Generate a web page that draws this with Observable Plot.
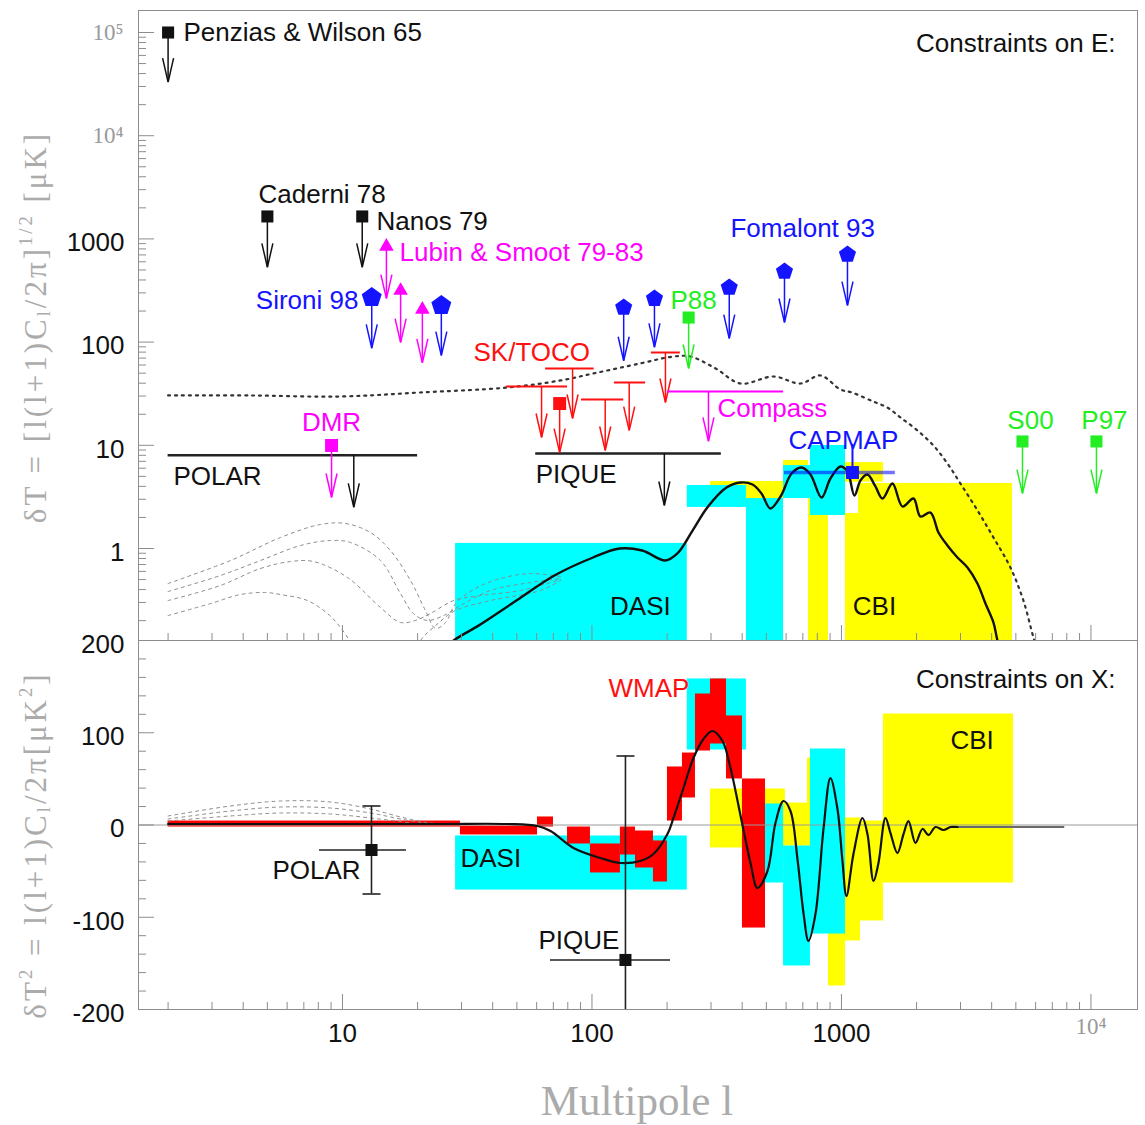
<!DOCTYPE html>
<html>
<head>
<meta charset="utf-8">
<title>Constraints on E and X polarization</title>
<script src="https://cdn.jsdelivr.net/npm/d3@7"></script>
<script src="https://cdn.jsdelivr.net/npm/@observablehq/plot@0.6"></script>
<style>
  html, body { margin: 0; padding: 0; background: #fff; }
  #chart { position: relative; width: 1145px; height: 1125px; overflow: hidden; }
  #chart svg { position: absolute; left: 0; }
  .axis-title { position: absolute; white-space: nowrap; font-family: "Liberation Serif", "DejaVu Serif", serif; color: #ababab; }
  .axis-title.y { font-size: 31px; letter-spacing: 3px; transform: translate(-50%, -50%) rotate(-90deg); }
  .axis-title.x { font-size: 43px; transform: translate(-50%, -50%); }
  .axis-title sub { font-size: 60%; vertical-align: -0.25em; }
  .axis-title sup { font-size: 60%; vertical-align: 0.75em; }
</style>
</head>
<body>
<div id="chart">
  <div class="axis-title y" style="left:35px; top:327px">δT = [l(l+1)C<sub>l</sub>/2π]<sup>1/2</sup> [μK]</div>
  <div class="axis-title y" style="left:35px; top:845px">δT<sup>2</sup> = l(l+1)C<sub>l</sub>/2π[μK<sup>2</sup>]</div>
  <div class="axis-title x" style="left:637px; top:1100px">Multipole l</div>
</div>
<script>
// ---------- palette & fonts ----------
const CYAN = "#00ffff", YELLOW = "#ffff00", RED = "#ff1010", MAGENTA = "#ff00ff",
      BLUE = "#1414ff", GREEN = "#22ee22", INK = "#111111", AXIS = "#8c8c8c";
const SANS = "Liberation Sans, Arial, Helvetica, sans-serif";
const SERIF = "Liberation Serif, DejaVu Serif, serif";

// ---------- scales ----------
const lDomain = [1.522, 15365];
const eDomain = [0.1284, 163400];
const xDomain = [-200, 200];
const FLOOR = 0.05; // lower edge for bands that reach below the E panel

// ---------- E panel: upper limits (marker at v, arrow down to tip) ----------
const blackLimits = [ // Penzias & Wilson 65, Caderni 78, Nanos 79
  {l: 2, v: 100000, tip: 33000},
  {l: 5, v: 1650, tip: 530},
  {l: 12, v: 1650, tip: 530}
];
const lubinSmoot = [
  {l: 15.0, v: 844, tip: 264},
  {l: 17.1, v: 316, tip: 99},
  {l: 20.9, v: 207, tip: 63}
];
const sironi = [
  {l: 13.1, v: 270, tip: 87},
  {l: 24.9, v: 226, tip: 74}
];
const fomalont = [
  {l: 134, v: 216, tip: 66},
  {l: 178, v: 264, tip: 89},
  {l: 355, v: 338, tip: 108},
  {l: 591, v: 483, tip: 155},
  {l: 1057, v: 706, tip: 226}
];
const greenLimits = [ // P88, S00, P97
  {l: 244, v: 173, tip: 55.5},
  {l: 5315, v: 10.9, tip: 3.4},
  {l: 10520, v: 10.9, tip: 3.4}
];
const dmr = [{l: 9.04, v: 9.96, tip: 3.12}];
const skTocoBars = [
  {l1: 45.4, l2: 79.8, l: 62.8, v: 37.1, tip: 11.9},
  {l1: 65.2, l2: 102, l: 83.6, v: 55.5, tip: 18.2},
  {l1: 90.8, l2: 134, l: 113, v: 27.8, tip: 8.9},
  {l1: 123, l2: 164, l: 141, v: 40.6, tip: 13.9},
  {l1: 173, l2: 226, l: 197, v: 79.3, tip: 26.0}
];
const skTocoPoint = [{l: 74.2, v: 25.4, tip: 8.5}];
const compass = [{l1: 201, l2: 586, l: 293, v: 33.2, tip: 10.9}];
const polarE = [{l1: 2, l2: 20, l: 11.1, v: 8.0, tip: 2.5}];
const piqueE = [{l1: 59.5, l2: 330, l: 195, v: 8.33, tip: 2.61}];
const capmap = [{l1: 591, l2: 1644, l: 1107, v: 5.45, hi: 10.2}];

// ---------- E panel: band powers ----------
const dasiE = [
  {l1: 28.4, l2: 241, lo: FLOOR, hi: 1.12},
  {l1: 241, l2: 416, lo: 2.5, hi: 4.08},
  {l1: 416, l2: 586, lo: FLOOR, hi: 3.05},
  {l1: 586, l2: 751, lo: 3.05, hi: 6.36},
  {l1: 751, l2: 1038, lo: 2.09, hi: 9.96}
];
const cbiE = [
  {l1: 298.5, l2: 586, lo: 2.61, hi: 4.46},
  {l1: 586, l2: 738, lo: 4.0, hi: 7.13},
  {l1: 738, l2: 887, lo: FLOOR, hi: 5.0},
  {l1: 1038, l2: 1473, lo: 4.4, hi: 6.8},
  {l1: 1170, l2: 4847, lo: FLOOR, hi: 4.27},
  {l1: 1038, l2: 1170, lo: FLOOR, hi: 2.18}
];

// ---------- E panel: model spectra [l, value] ----------
const tempScaled = [[2,30.4],[4.28,30.4],[9.82,29.7],[20.5,32.5],[45.8,36.3],[74.8,42.5],[101,49.6],[156,62.1],[212,72.5],[248,72.5],[313,55.5],[394,39.7],[534,46.4],[685,39.7],[824,47.5],[991,34.7],[1100,32.5],[1343,26.5],[1529,23.2],[1724,18.6],[2017,13.9],[2337,9.95],[2659,6.66],[2999,4.26],[3508,2.34],[4065,1.28],[4755,0.655],[5361,0.313],[5883,0.137],[6300,0.08]];
const eModel = [[25,0.1],[27.9,0.1285],[35.1,0.179],[49.8,0.313],[70.7,0.547],[101,0.818],[129,1.0],[159,0.956],[197,0.765],[220,0.895],[253,1.49],[290,2.5],[346,3.9],[394,4.36],[440,4.17],[478,3.41],[519,2.44],[570,3.19],[631,5.33],[692,6.09],[751,5.21],[832,3.12],[903,4.77],[991,6.23],[1057,5.57],[1127,3.26],[1192,4.56],[1271,5.21],[1368,3.99],[1460,3.05],[1601,4.26],[1756,2.55],[1944,3.05],[2073,2.04],[2274,2.23],[2448,1.43],[2659,1.07],[2917,0.818],[3199,0.655],[3508,0.458],[3777,0.293],[4065,0.192],[4218,0.1285],[4400,0.09]];
const reionA = [[2,0.458],[3.56,0.765],[5.64,1.278],[8.16,1.708],[10.28,1.747],[12.95,1.429],[15.57,0.956],[18.73,0.49],[21.5,0.251],[23.6,0.168],[25.9,0.192],[28.4,0.293],[34.1,0.41],[43,0.512],[56.7,0.572],[74.8,0.535]];
const reionB = [[2,0.383],[3.24,0.547],[4.69,0.765],[6.79,1.069],[8.95,1.195],[10.77,1.143],[14.2,0.765],[17.08,0.366],[19.25,0.234],[21.9,0.201],[25.9,0.229],[29.7,0.28],[39.2,0.392],[56.7,0.468],[74.8,0.512]];
const reionC = [[2,0.313],[3.24,0.438],[4.69,0.64],[6.19,0.748],[7.65,0.748],[10.47,0.524],[14.2,0.268],[17.08,0.192],[19.61,0.201],[22.5,0.234],[27.9,0.313],[35.7,0.35],[51.7,0.392],[74.8,0.501]];
const reionD = [[2,0.224],[2.96,0.293],[3.9,0.358],[4.91,0.375],[5.64,0.358],[7.24,0.313],[8.71,0.234],[9.82,0.172],[11.0,0.115],[12.4,0.075],[14.9,0.034],[18.0,0.07],[20.5,0.128],[23.6,0.179],[28.4,0.251],[39.2,0.313],[62.2,0.392],[74.8,0.49]];

// ---------- X panel: band powers ----------
const cbiX = [
  {l1: 298.5, l2: 596, lo: -24.9, hi: 39},
  {l1: 596, l2: 765, lo: -22.8, hi: 23.8},
  {l1: 731, l2: 1038, lo: -22.8, hi: 72.6},
  {l1: 887, l2: 1038, lo: -174.5, hi: -100},
  {l1: 1038, l2: 1192, lo: -125.7, hi: 7.6},
  {l1: 1192, l2: 1473, lo: -104, hi: 4.3},
  {l1: 1473, l2: 4890, lo: -62.9, hi: 120.3}
];
const dasiX = [
  {l1: 28.4, l2: 241, lo: -70.5, hi: -11.9},
  {l1: 241, l2: 416, lo: 81.3, hi: 158.3},
  {l1: 416, l2: 586, lo: -62.9, hi: 22.8},
  {l1: 586, l2: 751, lo: -152.8, hi: -22.8},
  {l1: 751, l2: 1038, lo: -118.2, hi: 82.4}
];
const wmapX = [
  {l1: 2, l2: 29.7, lo: -2.2, hi: 4.3},
  {l1: 29.7, l2: 60.5, lo: -10.8, hi: -1.1},
  {l1: 60.5, l2: 70.1, lo: -2.2, hi: 8.7},
  {l1: 79.8, l2: 98.6, lo: -20.6, hi: -2.2},
  {l1: 98.6, l2: 130, lo: -52, hi: -20.6},
  {l1: 130, l2: 149.4, lo: -32.5, hi: -2.2},
  {l1: 149.4, l2: 176.4, lo: -46.6, hi: -6.5},
  {l1: 176.4, l2: 200.7, lo: -61.8, hi: -17.3},
  {l1: 200.7, l2: 230.5, lo: 4.3, hi: 62.9},
  {l1: 230.5, l2: 259.9, lo: 29.3, hi: 78},
  {l1: 259.9, l2: 298.5, lo: 80.2, hi: 142},
  {l1: 298.5, l2: 346, lo: 87.8, hi: 158.3},
  {l1: 346, l2: 401, lo: 49.9, hi: 118.2},
  {l1: 401, l2: 496, lo: -111.7, hi: 49.9}
];
const polarX = [{l: 13.07, l1: 8.09, l2: 18.05, v: -27.1, lo: -74.8, hi: 20.6}];
const piqueX = [{l: 136.2, l1: 68.2, l2: 206.4, v: -146.3, lo: -300, hi: 74.8}];
const xCaps = [{l: 13.07, v: 20.6}, {l: 13.07, v: -74.8}, {l: 136.2, v: 74.8}];

// ---------- X panel: model spectra [l, value] ----------
const xModel = [[2,1.1],[6.79,1.1],[24.7,1.1],[45.8,1.1],[60.5,-1.1],[68.2,-6.5],[84.3,-24.9],[108.2,-35.8],[130,-41.2],[156,-39],[176.4,-31.4],[200.7,-9.8],[212.2,7.6],[232.7,40.1],[255.2,72.6],[279.9,93.2],[304,101.9],[333.4,91.1],[359.1,61.8],[394.2,9.8],[431.9,-41.2],[460.5,-68.3],[505,-49.9],[543.8,2.2],[585.6,26],[624.6,15.2],[666.3,-36.9],[704.3,-95.4],[737.6,-125.7],[786.7,-96.5],[847.2,-4.3],[903,50.9],[963.8,17.3],[1009,-39],[1047,-77],[1117,-31.4],[1214,7.6],[1271,-9.8],[1344,-60.7],[1407,-41.2],[1501,7.6],[1572,-8.7],[1676,-30.4],[1773,-9.8],[1856,4.3],[1980,-19.5],[2112,-4.3],[2233,-10.8],[2382,-2.2],[2564,-5.4],[2735,-2.2],[2917,-2.2]];
const xTail = [[2735,-2.2],[7759,-2.2]];
const reionXA = [[2,9.8],[3.56,20.6],[5.64,26],[8.95,24.9],[12.95,17.3],[17.08,8.7],[22.5,2.2],[29.7,1.1]];
const reionXB = [[2,6.5],[3.56,15.2],[5.64,19.5],[8.95,18.4],[12.95,13],[17.08,6.5],[22.5,1.1]];
const reionXC = [[2,4.3],[3.56,9.8],[5.64,13],[8.95,11.9],[12.95,7.6],[18.73,2.2]];

// ---------- text ----------
const labelsE = [
  {t: "Penzias & Wilson 65", l: 2.305, v: 100000, c: INK, a: "start"},
  {t: "Caderni 78", l: 4.61, v: 2693, c: INK, a: "start"},
  {t: "Nanos 79", l: 13.69, v: 1474, c: INK, a: "start"},
  {t: "Lubin & Smoot 79-83", l: 16.92, v: 738, c: MAGENTA, a: "start"},
  {t: "Sironi 98", l: 11.59, v: 253, c: BLUE, a: "end"},
  {t: "Fomalont 93", l: 359, v: 1261, c: BLUE, a: "start"},
  {t: "P88", l: 206.4, v: 253, c: GREEN, a: "start"},
  {t: "SK/TOCO", l: 33.5, v: 79.3, c: RED, a: "start"},
  {t: "Compass", l: 318.4, v: 22.7, c: MAGENTA, a: "start"},
  {t: "DMR", l: 9.04, v: 16.6, c: MAGENTA, a: "middle"},
  {t: "POLAR", l: 2.10, v: 4.99, c: INK, a: "start"},
  {t: "PIQUE", l: 59.5, v: 5.21, c: INK, a: "start"},
  {t: "CAPMAP", l: 613, v: 11.13, c: BLUE, a: "start"},
  {t: "S00", l: 5722, v: 17.4, c: GREEN, a: "middle"},
  {t: "P97", l: 11324, v: 17.4, c: GREEN, a: "middle"},
  {t: "DASI", l: 156.4, v: 0.274, c: INK, a: "middle"},
  {t: "CBI", l: 1356, v: 0.274, c: INK, a: "middle"},
  {t: "Constraints on E:", l: 12540, v: 78200, c: INK, a: "end"}
];
const labelsX = [
  {t: "Constraints on X:", l: 12540, v: 157.2, c: INK, a: "end"},
  {t: "WMAP", l: 116.5, v: 147.4, c: RED, a: "start"},
  {t: "CBI", l: 2735, v: 91.1, c: INK, a: "start"},
  {t: "DASI", l: 29.7, v: -36.9, c: INK, a: "start"},
  {t: "POLAR", l: 5.24, v: -49.9, c: INK, a: "start"},
  {t: "PIQUE", l: 61.0, v: -125.7, c: INK, a: "start"}
];
const eTickLabels = [{v: 1, t: "1"}, {v: 10, t: "10"}, {v: 100, t: "100"}, {v: 1000, t: "1000"}];
const eTickPowers = [{v: 1e4, t: "10⁴"}, {v: 1e5, t: "10⁵"}];
const xTickLabels = [{v: 200, t: "200"}, {v: 100, t: "100"}, {v: 0, t: "0"}, {v: -100, t: "-100"}, {v: -200, t: "-200"}];
const lTickLabels = [{v: 10, t: "10"}, {v: 100, t: "100"}, {v: 1000, t: "1000"}];
const lTickPowers = [{v: 10000, t: "10⁴"}];

// ---------- tick positions ----------
const lMajor = [10, 100, 1000, 10000];
const eMajor = [1, 10, 100, 1000, 1e4, 1e5];
const xMajor = [-200, -100, 0, 100, 200];
const xMinor = d3.range(-200, 201, 20).filter(t => t % 100 !== 0);
function logMinor([lo, hi]) {
  const out = [];
  for (let p = Math.floor(Math.log10(lo)); p <= Math.ceil(Math.log10(hi)); p++)
    for (let k = 2; k < 10; k++) { const t = k * Math.pow(10, p); if (t >= lo && t <= hi) out.push(t); }
  return out;
}
const lMinor = logMinor(lDomain);
const eMinor = logMinor(eDomain);

// ---------- symbols ----------
const pentagon = {draw(ctx, size) {
  const r = Math.sqrt(size / Math.PI);
  for (let i = 0; i < 5; i++) {
    const a = -Math.PI / 2 + i * 2 * Math.PI / 5;
    i ? ctx.lineTo(r * Math.cos(a), r * Math.sin(a)) : ctx.moveTo(r * Math.cos(a), r * Math.sin(a));
  }
  ctx.closePath();
}};
const arrowHead = {draw(ctx) { ctx.moveTo(-5.5, -24); ctx.lineTo(0, 0); ctx.lineTo(5.5, -24); }};
const errCap = {draw(ctx) { ctx.moveTo(-9, 0); ctx.lineTo(9, 0); }};

// ---------- mark helpers ----------
const px = d => d[0], py = d => d[1];
function upperLimits(data, color, width = 1.5) {
  return [
    Plot.ruleX(data, {x: "l", y1: "v", y2: "tip", stroke: color, strokeWidth: width}),
    Plot.dot(data, {x: "l", y: "tip", symbol: arrowHead, r: 4, fill: "none", stroke: color, strokeWidth: width})
  ];
}
function bars(data, color, width) {
  return Plot.ruleY(data, {y: "v", x1: "l1", x2: "l2", stroke: color, strokeWidth: width});
}
function labels(data, extra = {}) {
  return ["start", "middle", "end"].map(a =>
    Plot.text(data.filter(d => d.a === a), {x: "l", y: "v", text: "t", fill: "c", textAnchor: a, fontSize: 26, fontFamily: SANS, ...extra}));
}
function frameAndTicks(yMaj, yMin) {
  return [
    Plot.frame({stroke: AXIS, strokeWidth: 1}),
    Plot.axisX({ticks: lMajor, tickSize: -15, tickFormat: () => "", color: AXIS, label: null}),
    Plot.axisX({ticks: lMinor, tickSize: -7, tickFormat: () => "", color: AXIS, label: null}),
    Plot.axisY({ticks: yMaj, tickSize: -16, tickFormat: () => "", color: AXIS, label: null}),
    Plot.axisY({ticks: yMin, tickSize: -8, tickFormat: () => "", color: AXIS, label: null})
  ];
}
const plotStyle = {fontFamily: SANS, fontSize: "26px", background: "transparent", overflow: "visible"};

// ---------- upper panel: E ----------
const ePanel = Plot.plot({
  width: 1145, height: 641,
  marginLeft: 138, marginRight: 8, marginTop: 10, marginBottom: 1,
  style: plotStyle,
  x: {type: "log", domain: lDomain, label: null},
  y: {type: "log", domain: eDomain, label: null},
  color: {type: "identity"},
  marks: [
    Plot.rect(cbiE, {x1: "l1", x2: "l2", y1: "lo", y2: "hi", fill: YELLOW, clip: true}),
    Plot.rect(dasiE, {x1: "l1", x2: "l2", y1: "lo", y2: "hi", fill: CYAN, clip: true}),
    ...[reionA, reionB, reionC, reionD].map(c =>
      Plot.line(c, {x: px, y: py, stroke: "#8a8a8a", strokeWidth: 1, strokeDasharray: "3,4", curve: "catmull-rom", clip: true})),
    Plot.line(tempScaled, {x: px, y: py, stroke: "#333", strokeWidth: 2.2, strokeDasharray: "2,5", curve: "catmull-rom", clip: true}),
    Plot.line(eModel, {x: px, y: py, stroke: INK, strokeWidth: 2.4, curve: "catmull-rom", clip: true}),

    bars(polarE, "#222", 2.5), ...upperLimits(polarE, INK),
    bars(piqueE, "#222", 2.5), ...upperLimits(piqueE, INK),
    bars(skTocoBars, RED, 2), ...upperLimits(skTocoBars, RED),
    ...upperLimits(skTocoPoint, RED),
    Plot.dot(skTocoPoint, {x: "l", y: "v", symbol: "square", r: 7.3, fill: RED}),
    bars(compass, MAGENTA, 2), ...upperLimits(compass, MAGENTA),
    ...upperLimits(dmr, MAGENTA),
    Plot.dot(dmr, {x: "l", y: "v", symbol: "square", r: 7.3, fill: MAGENTA}),
    ...upperLimits(blackLimits, INK),
    Plot.dot(blackLimits, {x: "l", y: "v", symbol: "square", r: 6.8, fill: INK}),
    ...upperLimits(lubinSmoot, MAGENTA),
    Plot.dot(lubinSmoot, {x: "l", y: "v", symbol: "triangle", r: 5.4, fill: MAGENTA}),
    ...upperLimits(sironi, BLUE),
    Plot.dot(sironi, {x: "l", y: "v", symbol: pentagon, r: 10.5, fill: BLUE}),
    ...upperLimits(fomalont, BLUE),
    Plot.dot(fomalont, {x: "l", y: "v", symbol: pentagon, r: 9, fill: BLUE}),
    ...upperLimits(greenLimits, GREEN),
    Plot.dot(greenLimits, {x: "l", y: "v", symbol: "square", r: 6.8, fill: GREEN}),

    Plot.ruleY(capmap, {y: "v", x1: "l1", x2: "l2", stroke: "#0000ff", strokeOpacity: 0.55, strokeWidth: 3.5}),
    Plot.ruleX(capmap, {x: "l", y1: "v", y2: "hi", stroke: BLUE, strokeWidth: 2}),
    Plot.dot(capmap, {x: "l", y: "v", symbol: "square", r: 7.3, fill: BLUE}),

    ...labels(labelsE),
    ...frameAndTicks(eMajor, eMinor),
    Plot.text(eTickLabels, {y: "v", text: "t", frameAnchor: "left", dx: -14, dy: 4, textAnchor: "end", fontSize: 26, fill: INK}),
    Plot.text(eTickPowers, {y: "v", text: "t", frameAnchor: "left", dx: -15, textAnchor: "end", fontSize: 23, fontFamily: SERIF, fill: "#9a9a9a"})
  ]
});

// ---------- lower panel: X ----------
const xPanel = Plot.plot({
  width: 1145, height: 495,
  marginLeft: 138, marginRight: 8, marginTop: 10, marginBottom: 116,
  style: plotStyle,
  x: {type: "log", domain: lDomain, label: null},
  y: {domain: xDomain, label: null},
  color: {type: "identity"},
  marks: [
    Plot.rect(cbiX, {x1: "l1", x2: "l2", y1: "lo", y2: "hi", fill: YELLOW, clip: true}),
    Plot.rect(dasiX, {x1: "l1", x2: "l2", y1: "lo", y2: "hi", fill: CYAN, clip: true}),
    Plot.rect(wmapX, {x1: "l1", x2: "l2", y1: "lo", y2: "hi", fill: "#ff0000", clip: true}),
    Plot.ruleY([0], {stroke: "#9a9a9a", strokeWidth: 1}),
    ...[reionXA, reionXB, reionXC].map(c =>
      Plot.line(c, {x: px, y: py, stroke: "#8a8a8a", strokeWidth: 1, strokeDasharray: "3,4", curve: "catmull-rom", clip: true})),
    Plot.line(xTail, {x: px, y: py, stroke: "#6a6a6a", strokeWidth: 2}),
    Plot.line(xModel, {x: px, y: py, stroke: INK, strokeWidth: 2.2, curve: "catmull-rom", clip: true}),

    Plot.ruleX([...polarX, ...piqueX], {x: "l", y1: "lo", y2: "hi", stroke: "#222", strokeWidth: 1.6, clip: true}),
    Plot.ruleY([...polarX, ...piqueX], {y: "v", x1: "l1", x2: "l2", stroke: "#222", strokeWidth: 1.6}),
    Plot.dot(xCaps, {x: "l", y: "v", symbol: errCap, r: 4, fill: "none", stroke: "#222", strokeWidth: 1.6}),
    Plot.dot([...polarX, ...piqueX], {x: "l", y: "v", symbol: "square", r: 6.8, fill: INK}),

    ...labels(labelsX),
    ...frameAndTicks(xMajor, xMinor),
    Plot.text(xTickLabels, {y: "v", text: "t", frameAnchor: "left", dx: -14, dy: 4, textAnchor: "end", fontSize: 26, fill: INK}),
    Plot.text(lTickLabels, {x: "v", text: "t", frameAnchor: "bottom", dy: 32, fontSize: 26, fill: INK}),
    Plot.text(lTickPowers, {x: "v", text: "t", frameAnchor: "bottom", dy: 24, fontSize: 23, fontFamily: SERIF, fill: "#9a9a9a"})
  ]
});

const chart = document.getElementById("chart");
ePanel.style.top = "0px";
xPanel.style.top = "630px";
chart.appendChild(ePanel);
chart.appendChild(xPanel);
</script>
</body>
</html>
